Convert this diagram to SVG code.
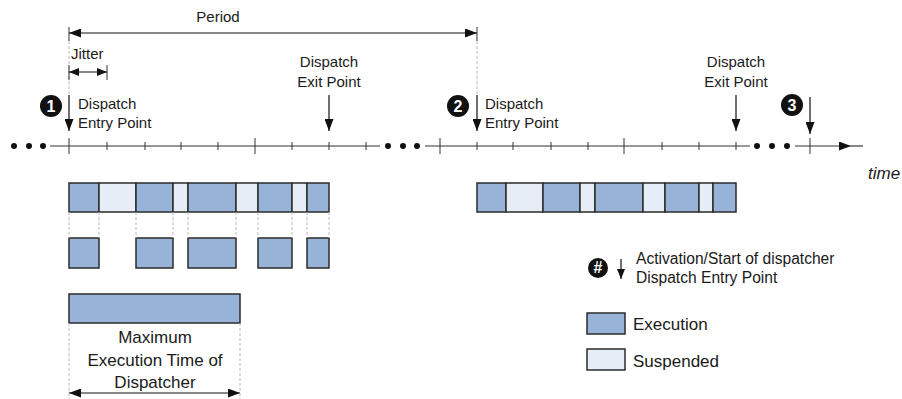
<svg xmlns="http://www.w3.org/2000/svg" width="902" height="399" viewBox="0 0 902 399">
<style>
text{font-family:"Liberation Sans",Arial,sans-serif;fill:#1a1a1a}
.t15{font-size:15px}
.t155{font-size:15.6px}
.t17{font-size:17px}
.num{font-size:16px;font-weight:bold;fill:#fff;text-anchor:middle}
.ex{fill:#97B4D8;stroke:#2b2b2b;stroke-width:1.5}
.su{fill:#E6EDF6;stroke:#2b2b2b;stroke-width:1.5}
.ln{stroke:#333;stroke-width:1;fill:none}
.dash{stroke:#bbb;stroke-width:1;stroke-dasharray:3,2;fill:none}
.arr{stroke:#111;stroke-width:1.2;fill:none}
</style>
<defs>
<marker id="ah" markerUnits="userSpaceOnUse" markerWidth="13" markerHeight="9" refX="12" refY="4.5" orient="auto-start-reverse">
<path d="M0,0 L12,4.5 L0,9 z" fill="#111"/>
</marker>
<marker id="ahs" markerUnits="userSpaceOnUse" markerWidth="11" markerHeight="8" refX="10" refY="4" orient="auto-start-reverse">
<path d="M0,0 L10,4 L0,8 z" fill="#111"/>
</marker>
</defs>

<g id="timeline">
<line class="ln" x1="50" y1="146" x2="380" y2="146"/>
<line class="ln" x1="425" y1="146" x2="750" y2="146"/>
<line class="ln" x1="795" y1="146" x2="851" y2="146" marker-end="url(#ah)"/>
<line x1="851" y1="146" x2="863" y2="146" stroke="#111"/>
<g fill="#111">
<circle cx="14" cy="146" r="3"/><circle cx="29" cy="146" r="3"/><circle cx="43" cy="146" r="3"/>
<circle cx="388" cy="146" r="3"/><circle cx="403" cy="146" r="3"/><circle cx="417" cy="146" r="3"/>
<circle cx="757" cy="146" r="3"/><circle cx="772" cy="146" r="3"/><circle cx="787" cy="146" r="3"/>
</g>
<g class="ln">
<path d="M69,138V154 M255,138V154 M440,138V154 M624,138V154 M810,138V154"/>
<path d="M107,142V150 M145,142V150 M181,142V150 M218,142V150 M292,142V150 M329,142V150 M366,142V150"/>
<path d="M477,142V150 M513,142V150 M551,142V150 M588,142V150 M662,142V150 M699,142V150 M736,142V150"/>
</g>
<text x="868" y="179" class="t17" font-style="italic">time</text>
</g>

<g id="period">
<path class="ln" d="M69,27V41 M477,27V41"/>
<path class="dash" d="M69,41V95 M477,41V95"/>
<text x="218" y="22" class="t15" text-anchor="middle">Period</text>
</g>

<g id="jitter">
<path class="ln" d="M69,65V80 M107,65V80"/>
<text x="71" y="59" class="t15">Jitter</text>
</g>

<g id="entry1">
<circle cx="51" cy="106" r="11" fill="#111"/>
<text x="51" y="111.5" class="num">1</text>
<text x="78" y="109" class="t15">Dispatch</text>
<text x="78" y="128" class="t15">Entry Point</text>
</g>

<g id="exit1">
<text x="329" y="67" class="t15" text-anchor="middle">Dispatch</text>
<text x="329" y="87" class="t15" text-anchor="middle">Exit Point</text>
</g>

<g id="entry2">
<circle cx="458" cy="106" r="11" fill="#111"/>
<text x="458" y="111.5" class="num">2</text>
<text x="485" y="109" class="t15">Dispatch</text>
<text x="485" y="128" class="t15">Entry Point</text>
</g>

<g id="exit2">
<text x="736" y="67" class="t15" text-anchor="middle">Dispatch</text>
<text x="736" y="87" class="t15" text-anchor="middle">Exit Point</text>
</g>

<g id="entry3">
<circle cx="792" cy="105" r="11" fill="#111"/>
<text x="792" y="110.5" class="num">3</text>
</g>

<g id="bar1">
<rect class="ex" x="69" y="183" width="30" height="29"/>
<rect class="su" x="99" y="183" width="37" height="29"/>
<rect class="ex" x="136" y="183" width="37" height="29"/>
<rect class="su" x="173" y="183" width="15" height="29"/>
<rect class="ex" x="188" y="183" width="48" height="29"/>
<rect class="su" x="236" y="183" width="22" height="29"/>
<rect class="ex" x="258" y="183" width="34" height="29"/>
<rect class="su" x="292" y="183" width="15" height="29"/>
<rect class="ex" x="307" y="183" width="22" height="29"/>
</g>

<g id="exec1">
<rect class="ex" x="69" y="238" width="30" height="30"/>
<rect class="ex" x="136" y="238" width="37" height="30"/>
<rect class="ex" x="188" y="238" width="48" height="30"/>
<rect class="ex" x="258" y="238" width="34" height="30"/>
<rect class="ex" x="307" y="238" width="22" height="30"/>
</g>

<g id="bar2">
<rect class="ex" x="477" y="183" width="29" height="29"/>
<rect class="su" x="506" y="183" width="37" height="29"/>
<rect class="ex" x="543" y="183" width="37" height="29"/>
<rect class="su" x="580" y="183" width="15" height="29"/>
<rect class="ex" x="595" y="183" width="48" height="29"/>
<rect class="su" x="643" y="183" width="22" height="29"/>
<rect class="ex" x="665" y="183" width="34" height="29"/>
<rect class="su" x="699" y="183" width="14" height="29"/>
<rect class="ex" x="713" y="183" width="23" height="29"/>
</g>

<g id="maxexec">
<rect class="ex" x="69" y="294" width="171" height="29"/>
<text x="155" y="343" class="t17" text-anchor="middle">Maximum</text>
<text x="155" y="366" class="t17" text-anchor="middle">Execution Time of</text>
<text x="155" y="388" class="t17" text-anchor="middle">Dispatcher</text>
</g>

<g id="legend">
<circle cx="598" cy="268" r="10" fill="#111"/>
<text x="598" y="273" class="num" font-size="14px">#</text>
<text x="636" y="264" class="t155">Activation/Start of dispatcher</text>
<text x="636" y="283" class="t155">Dispatch Entry Point</text>
<rect class="ex" x="587" y="313" width="38" height="21"/>
<text x="633" y="330" class="t17">Execution</text>
<rect class="su" x="587" y="349" width="38" height="21"/>
<text x="633" y="367" class="t17">Suspended</text>
</g>

<g id="connectors">
<line class="arr" x1="69" y1="33" x2="477" y2="33" marker-start="url(#ah)" marker-end="url(#ah)"/>
<line class="arr" x1="69" y1="72" x2="107" y2="72" marker-start="url(#ahs)" marker-end="url(#ahs)"/>
<line class="arr" x1="69" y1="95" x2="69" y2="131" marker-end="url(#ah)"/>
<line class="arr" x1="329" y1="95" x2="329" y2="131" marker-end="url(#ah)"/>
<line class="arr" x1="477" y1="95" x2="477" y2="131" marker-end="url(#ah)"/>
<line class="arr" x1="736" y1="95" x2="736" y2="131" marker-end="url(#ah)"/>
<line class="arr" x1="810" y1="97" x2="810" y2="134" marker-end="url(#ah)"/>
<line class="arr" x1="621" y1="259" x2="621" y2="279" marker-end="url(#ahs)"/>
<line class="arr" x1="69" y1="393" x2="240" y2="393" marker-start="url(#ah)" marker-end="url(#ah)"/>
<g class="dash">
<path d="M69,212V238 M99,212V238 M136,212V238 M173,212V238 M188,212V238 M236,212V238 M258,212V238 M292,212V238 M307,212V238 M329,212V238"/>
<path d="M69,323V399 M240,323V399"/>
</g>
</g>
</svg>
